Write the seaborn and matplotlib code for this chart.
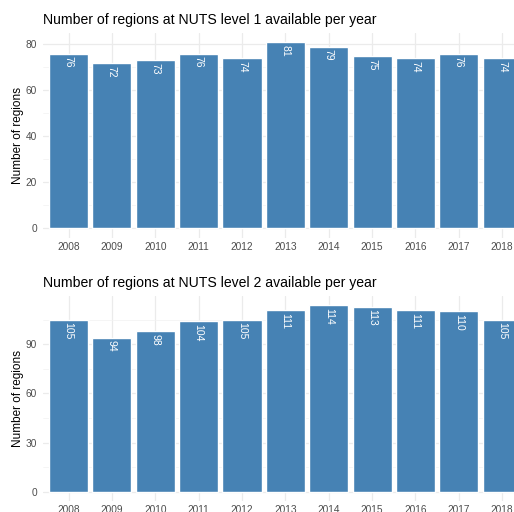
import numpy as np
import pandas as pd
import matplotlib
matplotlib.use("Agg")
import matplotlib.pyplot as plt
import seaborn as sns
from matplotlib.ticker import MultipleLocator

years = ["2008", "2009", "2010", "2011", "2012", "2013", "2014", "2015", "2016", "2017", "2018"]
nuts1 = [76, 72, 73, 76, 74, 81, 79, 75, 74, 76, 74]
nuts2 = [105, 94, 98, 104, 105, 111, 114, 113, 111, 110, 105]

titles = ["Number of regions at NUTS level 1 available per year",
          "Number of regions at NUTS level 2 available per year"]

sns.set_theme(style="white")
plt.rcParams['font.family'] = ['Liberation Sans', 'DejaVu Sans']

fig = plt.figure(figsize=(5.14, 5.12), dpi=100)
# panels run a bit past the right edge, like the cropped original
ax1 = fig.add_axes([0.0827, 0.5359, 0.945, 0.4002])
ax2 = fig.add_axes([0.0827, 0.0215, 0.945, 0.4012])

panels = [(ax1, nuts1, 20, titles[0]), (ax2, nuts2, 30, titles[1])]

for ax, vals, step, title in panels:
    df = pd.DataFrame({"year": years, "n": vals})
    sns.barplot(data=df, x="year", y="n", color="#4682B4", saturation=1,
                width=0.9, ax=ax, zorder=2)
    top = max(vals)
    ax.set_ylim(-0.05 * top, 1.05 * top)
    ax.set_xlim(-0.6, len(years) - 0.4)
    ax.yaxis.set_major_locator(MultipleLocator(step))
    ax.yaxis.set_minor_locator(MultipleLocator(step / 2))
    ax.grid(True, which="major", color="#EBEBEB", lw=0.9, zorder=0)
    ax.grid(True, which="minor", axis="y", color="#F2F2F2", lw=0.5, zorder=0)
    ax.set_axisbelow(True)
    for s in ax.spines.values():
        s.set_visible(False)
    ax.tick_params(axis="both", which="both", length=0, labelsize=7.3, colors="#4D4D4D")
    ax.tick_params(axis="y", pad=4)
    ax.tick_params(axis="x", pad=3)
    ax.set_xlabel("")
    ax.set_ylabel("Number of regions", fontsize=8.5, color="black")
    ax.yaxis.set_label_coords(-0.038, 0.5)
    ax.set_title(title, loc="left", fontsize=10.1, color="black", pad=6)
    for i, v in enumerate(vals):
        ax.annotate(str(v), (i, v), xytext=(0, -2), textcoords="offset points",
                    rotation=-90, ha="center", va="top", color="white", fontsize=7.5)

fig.savefig("out.png", dpi=100)
